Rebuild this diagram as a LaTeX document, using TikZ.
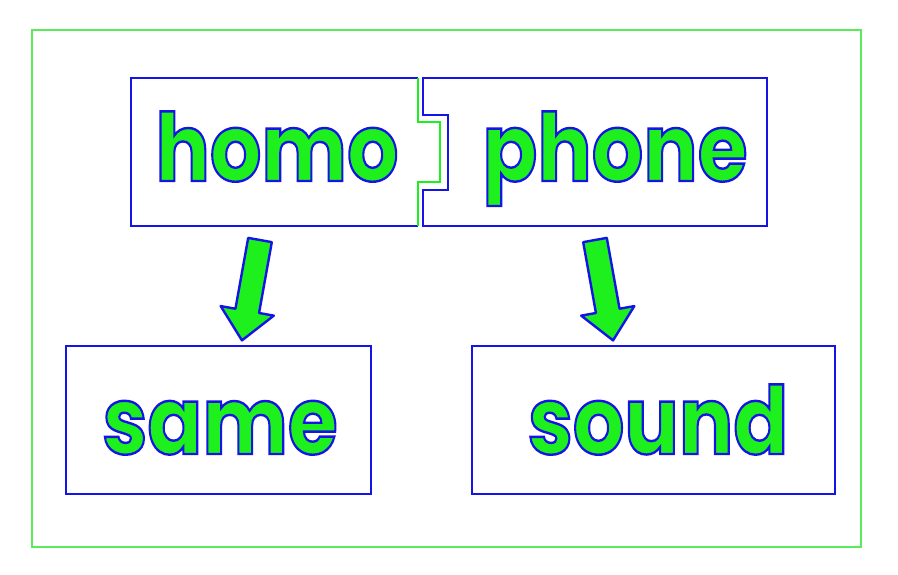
\documentclass[tikz,border=0pt]{standalone}
\usepackage{fontspec}
\setmainfont{Poppins}
\usetikzlibrary{positioning}

\definecolor{wgreen}{RGB}{30,240,30}
\definecolor{wblue}{RGB}{20,20,230}
\definecolor{framegreen}{RGB}{90,235,90}

% green letters with a blue rim
\newcommand\outlined[1]{\special{pdf:literal direct 0.08 0.08 0.9 RG 2 Tr 2.4 w}#1\special{pdf:literal direct 0 Tr 0.4 w}}

\begin{document}
\begin{tikzpicture}[x=1pt,y=-1pt,
    wordbox/.style={draw=wblue, line width=2.6pt, inner sep=0pt, minimum height=148pt},
    word/.style={text=wgreen, font=\fontsize{94}{94}\selectfont\bfseries, anchor=base, inner sep=0pt, xscale=0.86},
    arrowfill/.style={draw=wblue, fill=wgreen, line width=2.4pt, line join=round},
    fatarrow/.pic={\draw[arrowfill] (-12,0) -- (12,0) -- (12,72) -- (27,72) -- (0,102) -- (-27,72) -- (-12,72) -- cycle;}]
    \useasboundingbox (0,0) rectangle (898,574);
    \draw[framegreen, line width=1.6pt] (32,30) rectangle (861,547);

    % the two puzzle pieces
    \draw[wblue, line width=2.4pt] (418,78) -- (131,78) -- (131,226) -- (418,226);
    \draw[wgreen, line width=1.8pt] (418,78) -- (418,122) -- (440,122) -- (440,182) -- (418,182) -- (418,226);
    \draw[wblue, line width=2.4pt] (423,78) -- (767,78) -- (767,226) -- (423,226) -- (423,190) -- (448,190) -- (448,115) -- (423,115) -- cycle;
    \node[word] (homo) at (277,181) {\outlined{homo}};
    \node[word] (phone) at (615,181) {\outlined{phone}};

    % meanings
    \node[wordbox, minimum width=305pt] (samebox) at (218.5,420) {};
    \node[wordbox, minimum width=363pt] (soundbox) at (653.5,420) {};
    \node[word] (same) at (220,454) {\outlined{same}};
    \node[word] (sound) at (658,454) {\outlined{sound}};

    \pic[rotate=-10.2] at (260,240) {fatarrow};
    \pic[rotate=10.2] at (595,240) {fatarrow};
\end{tikzpicture}
\end{document}
